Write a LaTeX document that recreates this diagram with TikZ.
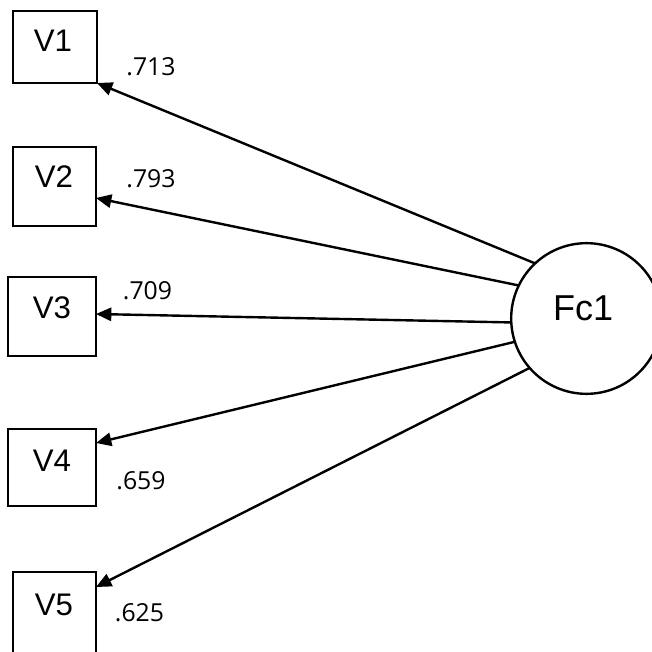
\documentclass[tikz,border=0pt]{standalone}
\usepackage{fontspec}
\setmainfont{Liberation Sans}
\newfontfamily\loadfont{Open Sans}
\usetikzlibrary{arrows.meta,calc}
\begin{document}
\begin{tikzpicture}[x=0.75pt,y=-0.75pt,
  box/.style={draw,line width=1.8pt,minimum width=#1,inner sep=0pt,outer sep=0pt},
  vtext/.style={anchor=base,font=\fontsize{23.4}{26}\selectfont,inner sep=0pt},
  ltext/.style={anchor=base,font=\loadfont\fontsize{18.6}{21}\selectfont,inner sep=0pt},
  fcirc/.style={draw,circle,line width=1.8pt,minimum size=113pt,inner sep=0pt,outer sep=0pt},
  arr/.style={line width=1.8pt,-{Triangle[length=11.5pt,width=10pt]}}]
\useasboundingbox (0,0) rectangle (652,652);
\clip (0,0) rectangle (652,652);
% boxes
\node[box=63pt,minimum height=54pt] (v1) at (55,47) {};
\node[box=62.25pt,minimum height=59.25pt] (v2) at (54.5,186.5) {};
\node[box=66pt,minimum height=59.25pt] (v3) at (52,316.5) {};
\node[box=66pt,minimum height=57.75pt] (v4) at (52,467.5) {};
\node[box=62.25pt,minimum height=66pt] (v5) at (54.5,616) {};
% box texts
\node[vtext] (t1) at (53,52) {V1};
\node[vtext] (t2) at (54,188) {V2};
\node[vtext] (t3) at (52,318) {V3};
\node[vtext] (t4) at (52,471) {V4};
\node[vtext] (t5) at (54,615) {V5};
% factor
\node[fcirc] (fc) at (586.5,318.5) {};
\node[anchor=base,font=\fontsize{27}{30}\selectfont,inner sep=0pt] (tf) at (583,320.7) {Fc1};
% arrows
\draw[arr] (fc.133) -- (v1.south east);
\draw[arr] (fc.154) -- ($(v2.east)+(0,11.5)$);
\draw[arr] (fc.183.4) -- ($(v3.east)+(0,-2.5)$);
\draw[arr] (fc.198.4) -- ($(v4.north east)+(0,14)$);
\draw[arr] (fc.221.4) -- ($(v5.north east)+(0,15)$);
% loadings
\node[ltext] (l1) at (151,76) {.713};
\node[ltext] (l2) at (151,187.3) {.793};
\node[ltext] (l3) at (147.5,299.3) {.709};
\node[ltext] (l4) at (141,489.3) {.659};
\node[ltext] (l5) at (139.5,621.7) {.625};
\end{tikzpicture}
\end{document}
